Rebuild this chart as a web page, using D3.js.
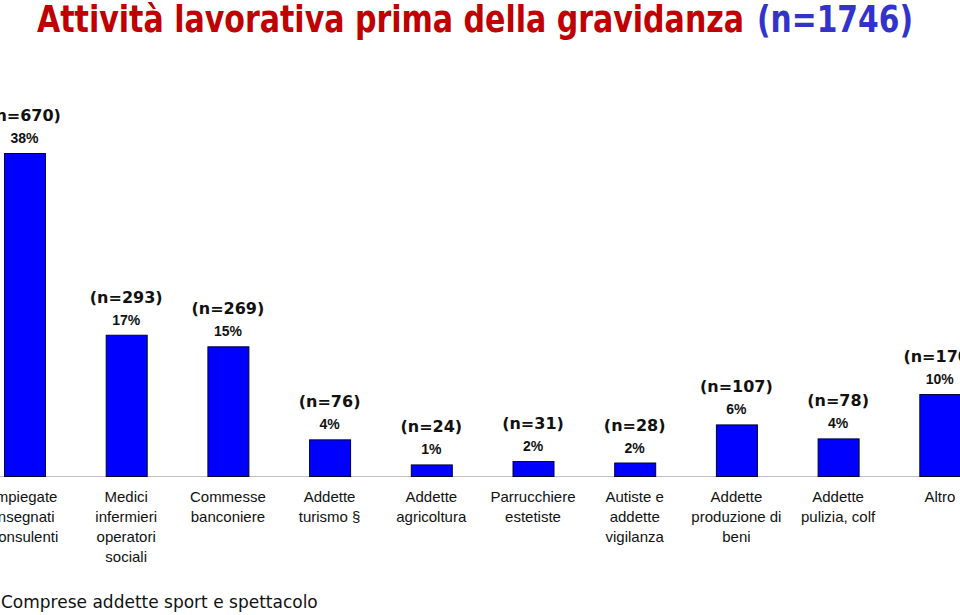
<!DOCTYPE html>
<html>
<head>
<meta charset="utf-8">
<script src="https://cdn.jsdelivr.net/npm/d3@7"></script>
<style>
  html, body { margin: 0; padding: 0; background: #ffffff; }
  svg { display: block; }
</style>
</head>
<body>
<svg id="chart" width="960" height="615"></svg>
<script>
// ---- data ----
const categories = [
  ["Impiegate", "insegnati", "consulenti"],
  ["Medici", "infermieri", "operatori", "sociali"],
  ["Commesse", "banconiere"],
  ["Addette", "turismo §"],
  ["Addette", "agricoltura"],
  ["Parrucchiere", "estetiste"],
  ["Autiste e", "addette", "vigilanza"],
  ["Addette", "produzione di", "beni"],
  ["Addette", "pulizia, colf"],
  ["Altro"]
];
const counts = [670, 293, 269, 76, 24, 31, 28, 107, 78, 170];
const percentLabels = ["38%", "17%", "15%", "4%", "1%", "2%", "2%", "6%", "4%", "10%"];
const titleMain = "Attività lavorativa prima della gravidanza";
const titleN = "(n=1746)";
const footnote = "Comprese addette sport e spettacolo";

// ---- drawing ----
const svg = d3.select("#chart");
const idx = d3.range(counts.length);

const x = d3.scaleBand()
  .domain(idx)
  .range([4, 960.3])
  .paddingInner(0.597)
  .paddingOuter(0);

const y = d3.scaleLinear()
  .domain([0, 670])
  .range([476, 153]);

// title (two parts)
const titleFont = "'DejaVu Sans Condensed', 'DejaVu Sans', sans-serif";
svg.append("text")
  .attr("x", 37)
  .attr("y", 32)
  .attr("font-family", titleFont)
  .attr("font-weight", "bold")
  .attr("font-size", 38)
  .attr("fill", "#C00000")
  .attr("textLength", 707)
  .attr("lengthAdjust", "spacingAndGlyphs")
  .text(titleMain);
svg.append("text")
  .attr("x", 757)
  .attr("y", 32)
  .attr("font-family", titleFont)
  .attr("font-weight", "bold")
  .attr("font-size", 38)
  .attr("fill", "#3333CC")
  .attr("textLength", 156)
  .attr("lengthAdjust", "spacingAndGlyphs")
  .text(titleN);

// baseline
svg.append("line")
  .attr("x1", 0).attr("x2", 960)
  .attr("y1", y(0) + 0.5).attr("y2", y(0) + 0.5)
  .attr("stroke", "#C0C0C0")
  .attr("stroke-width", 1);

// bars
svg.selectAll("rect.bar")
  .data(idx)
  .join("rect")
  .attr("class", "bar")
  .attr("x", i => x(i) + 0.5)
  .attr("y", i => y(counts[i]) + 0.5)
  .attr("width", x.bandwidth())
  .attr("height", i => y(0) - y(counts[i]))
  .attr("fill", "#0000FF")
  .attr("stroke", "#000033")
  .attr("stroke-width", 1);

// n labels
svg.selectAll("text.nlab")
  .data(idx)
  .join("text")
  .attr("class", "nlab")
  .attr("x", i => x(i) + x.bandwidth() / 2)
  .attr("y", i => y(counts[i]) - 32)
  .attr("text-anchor", "middle")
  .attr("font-family", "'DejaVu Sans', Verdana, sans-serif")
  .attr("font-weight", "bold")
  .attr("font-size", 16)
  .attr("fill", "#111111")
  .text(i => `(n=${counts[i]})`);

// percent labels
svg.selectAll("text.plab")
  .data(idx)
  .join("text")
  .attr("class", "plab")
  .attr("x", i => x(i) + x.bandwidth() / 2)
  .attr("y", i => y(counts[i]) - 10)
  .attr("text-anchor", "middle")
  .attr("font-family", "'Liberation Sans', Arial, sans-serif")
  .attr("font-weight", "bold")
  .attr("font-size", 14)
  .attr("fill", "#111111")
  .text(i => percentLabels[i]);

// category labels
const cat = svg.selectAll("text.cat")
  .data(idx)
  .join("text")
  .attr("class", "cat")
  .attr("text-anchor", "middle")
  .attr("font-family", "'Liberation Sans', Arial, sans-serif")
  .attr("font-size", 15)
  .attr("fill", "#111111");
cat.each(function(i) {
  const t = d3.select(this);
  categories[i].forEach((line, k) => {
    t.append("tspan")
      .attr("x", x(i) + x.bandwidth() / 2)
      .attr("y", 502 + k * 20)
      .text(line);
  });
});

// footnote
svg.append("text")
  .attr("x", 1)
  .attr("y", 608)
  .attr("font-family", "'DejaVu Sans', Tahoma, sans-serif")
  .attr("font-size", 17)
  .attr("fill", "#111111")
  .text(footnote);
</script>
</body>
</html>
